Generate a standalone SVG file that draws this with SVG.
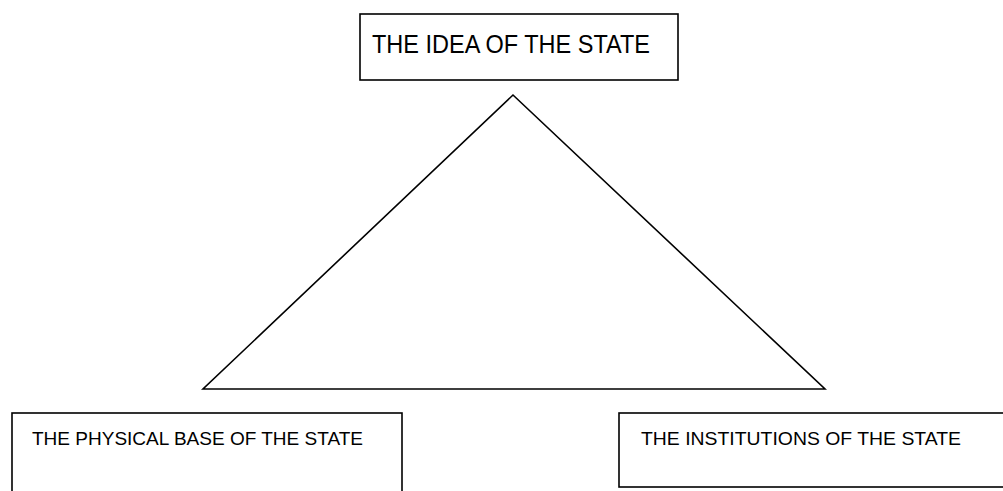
<svg xmlns="http://www.w3.org/2000/svg" width="1003" height="491" viewBox="0 0 1003 491">
<style>
.box{fill:#fff;stroke:#000;stroke-width:1.6}
.lbl{font-family:"Liberation Sans",Arial,sans-serif;fill:#000}
.tri{fill:none;stroke:#000;stroke-width:1.6;stroke-linejoin:miter}
</style>
<rect width="1003" height="491" fill="#fff"/>
<g id="connectors">
<polygon class="tri" points="513,95 203,389 825,389"/>
</g>
<g id="node-idea">
<rect class="box" x="360" y="14" width="318" height="66"/>
<text class="lbl" x="372" y="53" font-size="26" textLength="278" lengthAdjust="spacingAndGlyphs">THE IDEA OF THE STATE</text>
</g>
<g id="node-physical">
<rect class="box" x="12" y="413" width="390" height="100"/>
<text class="lbl" x="32" y="445" font-size="19" textLength="331" lengthAdjust="spacingAndGlyphs">THE PHYSICAL BASE OF THE STATE</text>
</g>
<g id="node-institutions">
<rect class="box" x="619" y="413" width="400" height="74"/>
<text class="lbl" x="641" y="445" font-size="19" textLength="320" lengthAdjust="spacingAndGlyphs">THE INSTITUTIONS OF THE STATE</text>
</g>
</svg>
